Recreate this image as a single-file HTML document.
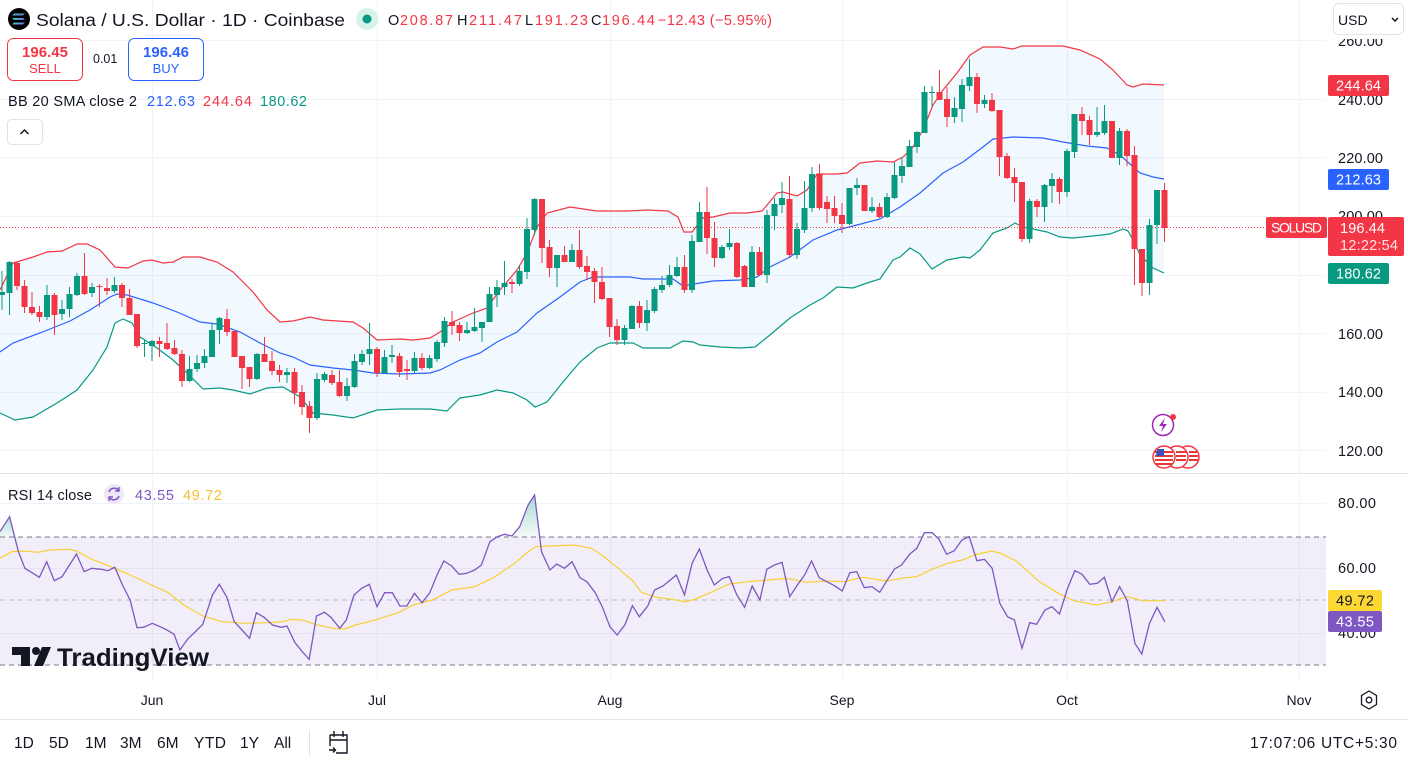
<!DOCTYPE html>
<html><head><meta charset="utf-8"><style>
html,body{margin:0;padding:0;background:#fff;}
body{width:1408px;height:761px;overflow:hidden;position:relative;font-family:"Liberation Sans",sans-serif;}
svg{position:absolute;left:0;top:0;}
</style></head><body>
<svg width="1408" height="761" viewBox="0 0 1408 761" xmlns="http://www.w3.org/2000/svg" font-family="Liberation Sans, sans-serif">
<defs>
<clipPath id="plot"><rect x="0" y="0" width="1326" height="473"/></clipPath>
<clipPath id="rsiplot"><rect x="0" y="474" width="1326" height="206"/></clipPath>
<linearGradient id="sol" x1="0" y1="0" x2="1" y2="1"><stop offset="0" stop-color="#14F195"/><stop offset="1" stop-color="#9945FF"/></linearGradient>
<linearGradient id="gfill" x1="0" y1="0" x2="0" y2="1"><stop offset="0" stop-color="#089981" stop-opacity="0.35"/><stop offset="1" stop-color="#089981" stop-opacity="0.05"/></linearGradient>
</defs>

<!-- grid main -->
<g stroke="#f0f3fa" stroke-width="1">
<path d="M0 40.5H1326M0 99.5H1326M0 157.5H1326M0 216.5H1326M0 275.5H1326M0 333.5H1326M0 392.5H1326M0 450.5H1326"/>
<path d="M152.5 0V680M377.5 0V680M610.5 0V680M842.5 0V680M1067.5 0V680M1299.5 0V680"/>
<path d="M0 503.5H1326M0 568.5H1326M0 633.5H1326"/>
</g>

<g clip-path="url(#plot)">
<!-- BB fill -->
<polygon fill="#2196f3" fill-opacity="0.06" points="0,290 13,263 33,257 47,252 62,251 77,244 87,244 100,250 115,267 128,268 143,261 152,260 163,263 173,262 183,257 200,257 217,262 233,272 253,292 267,310 280,322 293,321 310,317 323,320 353,322 363,328 377,340 400,339 413,340 430,338 440,332 453,322 473,313 487,308 500,290 517,270 527,253 537,227 547,213 570,207 597,211 627,211 647,210 668,211 678,217 684,232 692,232 703,218 713,217 730,213 747,213 762,211 777,193 783,192 797,196 807,190 817,174 837,174 847,173 860,163 877,161 893,162 903,157 913,147 923,130 933,105 943,90 957,73 970,55 983,47 1000,47 1013,49 1022,46 1040,46 1063,46 1080,50 1100,59 1113,70 1127,85 1133,87 1143,84 1164,85 1164,273 1153,268 1140,255 1133,240 1128,231 1123,229 1110,234 1093,236 1073,238 1060,237 1047,232 1033,229 1023,227 1015,223 1007,228 993,233 980,250 970,258 963,257 947,260 932,269 920,254 910,248 900,257 893,260 880,279 867,283 853,288 837,287 823,298 810,305 790,318 770,335 755,347 740,348 720,347 700,345 693,342 683,341 670,348 643,348 633,343 610,343 597,348 580,362 563,382 547,402 535,407 527,400 513,393 497,390 480,395 460,398 447,411 430,409 400,409 377,410 353,418 333,415 313,413 300,397 283,387 267,388 250,394 233,390 220,388 203,389 187,373 173,360 157,348 140,337 132,323 123,319 115,323 107,347 93,370 77,390 57,403 33,417 15,420 0,413"/>
<!-- BB lines -->
<polyline fill="none" stroke="#f23645" stroke-width="1.2" points="0,290 13,263 33,257 47,252 62,251 77,244 87,244 100,250 115,267 128,268 143,261 152,260 163,263 173,262 183,257 200,257 217,262 233,272 253,292 267,310 280,322 293,321 310,317 323,320 353,322 363,328 377,340 400,339 413,340 430,338 440,332 453,322 473,313 487,308 500,290 517,270 527,253 537,227 547,213 570,207 597,211 627,211 647,210 668,211 678,217 684,232 692,232 703,218 713,217 730,213 747,213 762,211 777,193 783,192 797,196 807,190 817,174 837,174 847,173 860,163 877,161 893,162 903,157 913,147 923,130 933,105 943,90 957,73 970,55 983,47 1000,47 1013,49 1022,46 1040,46 1063,46 1080,50 1100,59 1113,70 1127,85 1133,87 1143,84 1164,85"/>
<polyline fill="none" stroke="#2962ff" stroke-width="1.2" points="0,352 13,343 40,333 70,321 90,310 110,297 117,294 127,295 153,303 177,312 200,322 217,324 240,332 260,343 280,353 293,357 310,365 333,368 353,370 373,373 400,374 430,373 440,370 460,360 480,353 497,342 517,332 537,313 560,297 580,282 593,277 630,277 643,279 673,279 683,286 700,283 713,281 740,280 757,277 770,267 790,257 813,240 837,230 857,225 880,219 900,207 920,193 943,173 963,162 983,147 993,139 1013,137 1043,138 1063,142 1087,146 1107,148 1120,155 1140,173 1153,177 1164,179"/>
<polyline fill="none" stroke="#089981" stroke-width="1.2" points="0,413 15,420 33,417 57,403 77,390 93,370 107,347 115,323 123,319 132,323 140,337 157,348 173,360 187,373 203,389 220,388 233,390 250,394 267,388 283,387 300,397 313,413 333,415 353,418 377,410 400,409 430,409 447,411 460,398 480,395 497,390 513,393 527,400 535,407 547,402 563,382 580,362 597,348 610,343 633,343 643,348 670,348 683,341 693,342 700,345 720,347 740,348 755,347 770,335 790,318 810,305 823,298 837,287 853,288 867,283 880,279 893,260 900,257 910,248 920,254 932,269 947,260 963,257 970,258 980,250 993,233 1007,228 1015,223 1023,227 1033,229 1047,232 1060,237 1073,238 1093,236 1110,234 1123,229 1128,231 1133,240 1140,255 1153,268 1164,273"/>

<!-- price line -->
<path d="M0 227.5H1265" stroke="#f23645" stroke-width="1" stroke-dasharray="1 2"/>

<!-- green candles -->
<path fill="none" stroke="#089981" stroke-width="1" d="M2 271V310M9.5 261V315M47 285V320M62 300V320M69.5 287V317M77 273V296M92 283V297M114.5 277V293M144.5 340V357M152 340V361M189.5 356V382M197 355V372M204.5 349V368M212 323V357M219.5 317V344M257 353V380M287 368V383M317 373V420M324.5 372V382M347 378V401M354.5 354V388M362 350V365M369.5 323V365M384.5 350V374M392 345V363M414.5 352V373M429.5 355V369M437 340V362M444.5 317V347M467 322V334M474.5 308V332M482 322V342M489.5 287V322M497 280V307M504.5 261V295M519.5 265V286M527 218V279M534.5 198V235M557 255V287M572 244V262M624.5 325V345M632 305V329M647 300V331M654.5 287V313M662 276V293M669.5 265V287M677 257V277M692 235V293M699.5 202V242M722 245V259M729.5 229V250M752 246V287M767 210V283M774.5 198V230M782 182V213M797 223V259M804.5 181V233M812 167V212M849.5 188V225M857 178V195M872 197V213M887 193V218M894.5 162V199M902 157V183M909.5 140V167M917 131V153M924.5 86V133M932 86V107M954.5 97V123M962 79V122M969.5 59V91M984.5 95V108M1029.5 199V243M1044.5 184V222M1052 173V203M1067 149V197M1074.5 114V158M1097 107V137M1104.5 105V135M1119.5 128V165M1149.5 219V295M1157 190V244"/>
<g fill="#089981">
<rect x="-1" y="292" width="6" height="3"/><rect x="6.5" y="262" width="6" height="31"/><rect x="44" y="295" width="6" height="22"/><rect x="59" y="309" width="6" height="5"/><rect x="66.5" y="294" width="6" height="15"/><rect x="74" y="276" width="6" height="19"/><rect x="89" y="287" width="6" height="6"/><rect x="111.5" y="285" width="6" height="6"/><rect x="141.5" y="343" width="6" height="1"/><rect x="149" y="341" width="6" height="5"/><rect x="186.5" y="369" width="6" height="12"/><rect x="194" y="363" width="6" height="6"/><rect x="201.5" y="356" width="6" height="7"/><rect x="209" y="330" width="6" height="27"/><rect x="216.5" y="318" width="6" height="12"/><rect x="254" y="354" width="6" height="25"/><rect x="284" y="372" width="6" height="3"/><rect x="314" y="379" width="6" height="39"/><rect x="321.5" y="374" width="6" height="6"/><rect x="344" y="386" width="6" height="10"/><rect x="351.5" y="361" width="6" height="26"/><rect x="359" y="354" width="6" height="8"/><rect x="366.5" y="349" width="6" height="5"/><rect x="381.5" y="357" width="6" height="16"/><rect x="389" y="355" width="6" height="2"/><rect x="411.5" y="358" width="6" height="13"/><rect x="426.5" y="358" width="6" height="10"/><rect x="434" y="342" width="6" height="17"/><rect x="441.5" y="321" width="6" height="22"/><rect x="464" y="330" width="6" height="3"/><rect x="471.5" y="327" width="6" height="4"/><rect x="479" y="322" width="6" height="6"/><rect x="486.5" y="294" width="6" height="28"/><rect x="494" y="287" width="6" height="8"/><rect x="501.5" y="283" width="6" height="4"/><rect x="516.5" y="271" width="6" height="13"/><rect x="524" y="229" width="6" height="43"/><rect x="531.5" y="199" width="6" height="31"/><rect x="554" y="255" width="6" height="13"/><rect x="569" y="250" width="6" height="12"/><rect x="621.5" y="328" width="6" height="12"/><rect x="629" y="306" width="6" height="23"/><rect x="644" y="310" width="6" height="13"/><rect x="651.5" y="289" width="6" height="22"/><rect x="659" y="285" width="6" height="5"/><rect x="666.5" y="275" width="6" height="10"/><rect x="674" y="267" width="6" height="9"/><rect x="689" y="241" width="6" height="49"/><rect x="696.5" y="212" width="6" height="30"/><rect x="719" y="247" width="6" height="11"/><rect x="726.5" y="243" width="6" height="4"/><rect x="749" y="252" width="6" height="35"/><rect x="764" y="215" width="6" height="60"/><rect x="771.5" y="204" width="6" height="12"/><rect x="779" y="198" width="6" height="7"/><rect x="794" y="229" width="6" height="26"/><rect x="801.5" y="208" width="6" height="22"/><rect x="809" y="174" width="6" height="34"/><rect x="846.5" y="188" width="6" height="36"/><rect x="854" y="185" width="6" height="3"/><rect x="869" y="207" width="6" height="4"/><rect x="884" y="197" width="6" height="20"/><rect x="891.5" y="175" width="6" height="23"/><rect x="899" y="166" width="6" height="10"/><rect x="906.5" y="146" width="6" height="21"/><rect x="914" y="132" width="6" height="15"/><rect x="921.5" y="92" width="6" height="41"/><rect x="929" y="92" width="6" height="1"/><rect x="951.5" y="108" width="6" height="9"/><rect x="959" y="85" width="6" height="24"/><rect x="966.5" y="77" width="6" height="9"/><rect x="981.5" y="100" width="6" height="4"/><rect x="1026.5" y="201" width="6" height="38"/><rect x="1041.5" y="185" width="6" height="22"/><rect x="1049" y="179" width="6" height="7"/><rect x="1064" y="151" width="6" height="41"/><rect x="1071.5" y="114" width="6" height="38"/><rect x="1094" y="132" width="6" height="3"/><rect x="1101.5" y="121" width="6" height="12"/><rect x="1116.5" y="131" width="6" height="27"/><rect x="1146.5" y="225" width="6" height="58"/><rect x="1154" y="190" width="6" height="35"/>
</g>
<!-- red candles -->
<path fill="none" stroke="#f23645" stroke-width="1" d="M17 261V290M24.5 280V313M32 292V315M39.5 306V322M54.5 293V335M84.5 253V295M99.5 284V307M107 278V295M122 283V307M129.5 289V315M137 314V348M159.5 337V357M167 323V350M174.5 340V355M182 350V387M227 309V336M234.5 331V357M242 356V389M249.5 367V387M264.5 337V362M272 351V375M279.5 365V382M294.5 368V404M302 385V415M309.5 401V433M332 370V385M339.5 370V397M377 347V377M399.5 353V377M407 360V380M422 353V370M452 311V335M459.5 322V341M512 279V293M542 199V263M549.5 240V277M564.5 246V262M579.5 230V269M587 256V280M594.5 268V303M602 267V300M609.5 298V337M617 319V345M639.5 301V328M684.5 255V293M707 187V254M714.5 222V267M737 242V278M744.5 265V287M759.5 247V276M789.5 176V257M819.5 164V210M827 196V223M834.5 196V223M842 203V233M864.5 185V211M879.5 203V218M939.5 70V100M947 87V127M977 73V113M992 93V112M999.5 110V176M1007 153V179M1014.5 168V202M1022 182V242M1037 199V217M1059.5 177V204M1082 107V135M1089.5 116V145M1112 121V158M1127 129V166M1134.5 146V285M1142 249V296M1164.5 183V242"/>
<g fill="#f23645">
<rect x="14" y="263" width="6" height="23"/><rect x="21.5" y="286" width="6" height="21"/><rect x="29" y="307" width="6" height="6"/><rect x="36.5" y="312" width="6" height="5"/><rect x="51.5" y="295" width="6" height="20"/><rect x="81.5" y="276" width="6" height="18"/><rect x="96.5" y="286" width="6" height="1"/><rect x="104" y="288" width="6" height="3"/><rect x="119" y="285" width="6" height="13"/><rect x="126.5" y="298" width="6" height="17"/><rect x="134" y="314" width="6" height="32"/><rect x="156.5" y="341" width="6" height="3"/><rect x="164" y="343" width="6" height="6"/><rect x="171.5" y="348" width="6" height="6"/><rect x="179" y="354" width="6" height="27"/><rect x="224" y="319" width="6" height="13"/><rect x="231.5" y="331" width="6" height="26"/><rect x="239" y="356" width="6" height="12"/><rect x="246.5" y="367" width="6" height="12"/><rect x="261.5" y="354" width="6" height="8"/><rect x="269" y="361" width="6" height="10"/><rect x="276.5" y="370" width="6" height="5"/><rect x="291.5" y="372" width="6" height="21"/><rect x="299" y="392" width="6" height="15"/><rect x="306.5" y="406" width="6" height="12"/><rect x="329" y="375" width="6" height="8"/><rect x="336.5" y="382" width="6" height="14"/><rect x="374" y="349" width="6" height="24"/><rect x="396.5" y="356" width="6" height="16"/><rect x="404" y="369" width="6" height="2"/><rect x="419" y="358" width="6" height="10"/><rect x="449" y="322" width="6" height="4"/><rect x="456.5" y="325" width="6" height="8"/><rect x="509" y="282" width="6" height="2"/><rect x="539" y="199" width="6" height="49"/><rect x="546.5" y="247" width="6" height="21"/><rect x="561.5" y="255" width="6" height="7"/><rect x="576.5" y="250" width="6" height="17"/><rect x="584" y="266" width="6" height="6"/><rect x="591.5" y="271" width="6" height="11"/><rect x="599" y="282" width="6" height="17"/><rect x="606.5" y="298" width="6" height="29"/><rect x="614" y="326" width="6" height="14"/><rect x="636.5" y="306" width="6" height="17"/><rect x="681.5" y="267" width="6" height="23"/><rect x="704" y="212" width="6" height="26"/><rect x="711.5" y="238" width="6" height="20"/><rect x="734" y="243" width="6" height="34"/><rect x="741.5" y="266" width="6" height="21"/><rect x="756.5" y="252" width="6" height="23"/><rect x="786.5" y="199" width="6" height="56"/><rect x="816.5" y="174" width="6" height="34"/><rect x="824" y="202" width="6" height="7"/><rect x="831.5" y="208" width="6" height="8"/><rect x="839" y="215" width="6" height="9"/><rect x="861.5" y="185" width="6" height="26"/><rect x="876.5" y="207" width="6" height="10"/><rect x="936.5" y="92" width="6" height="8"/><rect x="944" y="99" width="6" height="18"/><rect x="974" y="77" width="6" height="27"/><rect x="989" y="100" width="6" height="11"/><rect x="996.5" y="110" width="6" height="47"/><rect x="1004" y="156" width="6" height="22"/><rect x="1011.5" y="177" width="6" height="6"/><rect x="1019" y="182" width="6" height="57"/><rect x="1034" y="201" width="6" height="6"/><rect x="1056.5" y="179" width="6" height="13"/><rect x="1079" y="114" width="6" height="7"/><rect x="1086.5" y="120" width="6" height="15"/><rect x="1109" y="121" width="6" height="37"/><rect x="1124" y="131" width="6" height="25"/><rect x="1131.5" y="155" width="6" height="94"/><rect x="1139" y="249" width="6" height="34"/><rect x="1161.5" y="190" width="6" height="38"/>
</g>
</g>

<!-- pane separator -->
<path d="M0 473.5H1408" stroke="#e0e3eb" stroke-width="1"/>

<!-- RSI pane -->
<g clip-path="url(#rsiplot)">
<rect x="0" y="537" width="1326" height="128" fill="#7e57c2" fill-opacity="0.1"/>
<path d="M0 537H1326M0 665H1326" stroke="#787b86" stroke-width="1" stroke-dasharray="5 4"/>
<path d="M0 600H1326" stroke="#9598a1" stroke-opacity="0.6" stroke-width="1" stroke-dasharray="5 4"/>
<polygon fill="url(#gfill)" points="0,537 0,531.7 9.6,516.7 14.6,537"/>
<polygon fill="url(#gfill)" points="497.5,537 504.4,534.3 510,537 513,537 519.7,526.7 528.1,505 534.6,495 539.7,537"/>
<polyline fill="none" stroke="#f7d035" stroke-width="1.2" points="0,558.3 11.5,551.7 23,551 38.3,552.3 49.8,550 68.9,549.3 76.5,551 91.8,559.3 111,566.7 130.1,575 153.1,585.7 168.4,592.7 183.7,605 202.8,616 222,621.7 244.9,623.3 267.9,622.7 283.2,621.7 290.9,619.3 302.3,620 317.6,625 333,628.3 344.4,629 355.9,625 375,620 398,612.7 413.3,605 432.5,600 451.6,590 474.6,586.7 493.7,577.7 516.7,561.7 528.1,551.7 535.8,546.7 551.1,546 574,545 591.5,548.3 603,556 618.3,568.3 633.6,581.7 641.2,592.3 656.5,597.3 671.8,599.3 685.2,601.7 694.8,599.3 710.1,592.7 729.3,584 748.4,581.7 767.5,580 782.8,578.7 790.5,579 805.8,582.3 824.9,581 844.1,581.7 863.2,577.3 886.2,581 905.3,577.7 916.8,576.7 932.1,569.3 947.4,563.3 962.7,560 974.2,555 991.4,551 1000.9,553.3 1016.3,561 1039.3,581.7 1058.4,593.3 1073.7,600.7 1096.7,605 1111.9,601.7 1127.3,596.7 1142.6,600.7 1165.5,600.7"/>
<polyline fill="none" stroke="#7e57c2" stroke-width="1.3" points="0,531.7 9.6,516.7 18.4,551.7 24.9,568.3 39.4,577.3 46.7,561.7 54.3,580.7 62,576.7 76.5,554 84.2,571.7 91.8,568.3 101.4,569.3 107.9,570.7 114.8,567.3 122.5,585 130.1,600 137,627.7 143.5,627.3 152.3,623.3 160,626.7 167,630 174.1,634.3 179.9,650 187.5,639.3 195,632 202.8,624.3 212.4,595 219.3,584.3 226.9,597.3 234.2,621.7 242,630 249.5,638.3 256.4,612.7 264.1,617.3 272.5,625 281.3,627.3 287,626 294.7,642.3 302.3,651.7 309.2,659.3 316.5,616 324.5,612.3 331,617.3 339.8,628.3 346.3,620 354,595 361.7,588.3 369.3,584.3 377,606.7 384.6,592.7 392.3,592.7 399.9,606 406.8,606 414.5,593.3 422.1,602.7 429.8,592.7 437,575 443.9,561 451.6,566 459.2,574.3 466.9,573.3 474.6,570 481.4,565 489.9,541.7 497.5,536.7 504.4,534.3 512,536 519.7,526.7 528.1,505 534.6,495 541.5,551.7 549.9,570 556.8,564 564.5,568.3 572.1,561.7 580,577.7 586.9,581.7 595.3,592.7 602.2,606.7 609.9,626.7 617.1,635 624.8,625 632.4,605.7 639.3,616.7 647.7,606 654.6,590 663,586 676.4,575 684.5,595 692.1,563.3 699.4,549 707.1,570 714.3,585 722.7,578.3 729.3,576.7 736.9,595 744.6,607.3 752.2,586 759.9,600 766.8,569.3 774.4,565 782.1,562.3 789.7,596.7 797.4,585 804.6,575 811.5,561 819.2,577.7 826.8,581.7 834.5,585.7 842.2,591 849.8,572.7 856.7,571.7 864.3,587.7 872,586.7 879.7,592.3 887.3,580 894.6,569 901.5,565 909.9,554 916.8,548.3 924.4,532.7 932.1,532.7 939,539.3 946.6,554.3 954.3,550.7 961.9,540 969.2,536.7 976.9,560.7 984.5,559.3 992.2,568.3 999.8,603.3 1007.5,616.7 1014.4,620 1022,648.3 1029.7,622.7 1036.6,624.3 1045,610 1051.9,606.7 1059.5,614 1067.2,589.3 1074.8,570.7 1082.1,574.3 1089.8,584.3 1097.4,583.3 1104.3,577.3 1112,601.7 1119.6,586.7 1127.3,600.7 1134.9,643.3 1141.8,654 1149.5,623.3 1157.1,607.3 1164.8,621.7"/>
</g>

<!-- TradingView logo -->
<g fill="#131722">
<path d="M12 647H30V666H21V655H12Z"/>
<circle cx="36" cy="651" r="4"/>
<path d="M42 647H51L43 666H34Z"/>
<text x="57" y="666" font-size="25" font-weight="bold" textLength="152" lengthAdjust="spacingAndGlyphs">TradingView</text>
</g>

<!-- header -->
<circle cx="19" cy="19" r="11" fill="#000"/>
<g fill="url(#sol)"><path d="M14 13.5H25L23 15.5H12Z"/><path d="M12 18H23L25 20H14Z"/><path d="M14 22.5H25L23 24.5H12Z"/></g>
<text x="36" y="26" font-size="17.5" fill="#131722" textLength="309" lengthAdjust="spacingAndGlyphs">Solana / U.S. Dollar · 1D · Coinbase</text>
<circle cx="367" cy="19" r="11" fill="#d7f1eb"/>
<circle cx="367" cy="19" r="4.5" fill="#089981"/>
<g font-size="14.5">
<text x="388" y="25" fill="#131722">O</text><text x="400" y="25" fill="#f23645" textLength="53">208.87</text>
<text x="457" y="25" fill="#131722">H</text><text x="469" y="25" fill="#f23645" textLength="53">211.47</text>
<text x="525" y="25" fill="#131722">L</text><text x="535" y="25" fill="#f23645" textLength="53">191.23</text>
<text x="591" y="25" fill="#131722">C</text><text x="602" y="25" fill="#f23645" textLength="53">196.44</text>
<text x="658" y="25" fill="#f23645" textLength="114">−12.43 (−5.95%)</text>
</g>

<!-- sell/buy -->
<rect x="7.5" y="38.5" width="75" height="42" rx="6" fill="#fff" stroke="#f23645"/>
<text x="45" y="57" font-size="15" font-weight="bold" fill="#f23645" text-anchor="middle">196.45</text>
<text x="45" y="73" font-size="13" fill="#f23645" text-anchor="middle">SELL</text>
<text x="93" y="63" font-size="12.5" fill="#131722">0.01</text>
<rect x="128.5" y="38.5" width="75" height="42" rx="6" fill="#fff" stroke="#2962ff"/>
<text x="166" y="57" font-size="15" font-weight="bold" fill="#2962ff" text-anchor="middle">196.46</text>
<text x="166" y="73" font-size="13" fill="#2962ff" text-anchor="middle">BUY</text>

<!-- BB legend -->
<g font-size="14.5">
<text x="8" y="106" fill="#131722" textLength="129">BB 20 SMA close 2</text>
<text x="147" y="106" fill="#2962ff" textLength="48">212.63</text>
<text x="203" y="106" fill="#f23645" textLength="49">244.64</text>
<text x="260" y="106" fill="#089981" textLength="47">180.62</text>
</g>
<rect x="7.5" y="119.5" width="35" height="25" rx="4" fill="#fff" stroke="#e0e3eb"/>
<path d="M20.5 134L24.5 130L28.5 134" fill="none" stroke="#131722" stroke-width="1.5"/>

<!-- RSI legend -->
<text x="8" y="500" font-size="14.5" fill="#131722" textLength="84">RSI 14 close</text>
<circle cx="114" cy="494" r="10" fill="#ede7f6"/>
<path d="M109 492A5.5 5.5 0 0 1 119 491M119 496A5.5 5.5 0 0 1 109 497" fill="none" stroke="#7e57c2" stroke-width="1.6"/>
<path d="M119 487V491H115M109 501V497H113" fill="none" stroke="#7e57c2" stroke-width="1.4"/>
<text x="135" y="500" font-size="14.5" fill="#7e57c2" textLength="39">43.55</text>
<text x="183" y="500" font-size="14.5" fill="#f2c12e" textLength="39">49.72</text>

<!-- event icons -->
<circle cx="1163" cy="425" r="10.5" fill="#fff" stroke="#9c27b0" stroke-width="1.5"/>
<path d="M1165 418L1159 426H1163L1161 432L1167 424H1163Z" fill="#9c27b0"/>
<circle cx="1173" cy="417" r="3" fill="#f23645"/>
<g>
<circle cx="1188" cy="457" r="11" fill="#fff" stroke="#f23645" stroke-width="1.5"/>
<circle cx="1177" cy="457" r="11" fill="#fff" stroke="#f23645" stroke-width="1.5"/>
<circle cx="1164" cy="457" r="11" fill="#fff" stroke="#f23645" stroke-width="1.5"/>
<path d="M1155 452H1173M1155 456H1173M1155 460H1173M1156 464H1172" stroke="#e53935" stroke-width="2"/>
<path d="M1157 449H1164V456H1156Z" fill="#3f51b5"/>
<path d="M1176 452H1186M1176 456H1186M1176 460H1186" stroke="#e53935" stroke-width="2"/>
<path d="M1189 452H1197M1189 456H1198M1189 460H1198" stroke="#e53935" stroke-width="2"/>
</g>

<!-- price axis -->
<rect x="1326" y="0" width="82" height="39" fill="#fff"/>
<g font-size="14.5" fill="#131722">
<text x="1338" y="46" textLength="45" clip-path="inset(0)">260.00</text>
<text x="1338" y="105" textLength="45">240.00</text>
<text x="1338" y="163" textLength="45">220.00</text>
<text x="1338" y="221" textLength="45">200.00</text>
<text x="1338" y="339" textLength="45">160.00</text>
<text x="1338" y="397" textLength="45">140.00</text>
<text x="1338" y="456" textLength="45">120.00</text>
<text x="1338" y="508" textLength="38">80.00</text>
<text x="1338" y="573" textLength="38">60.00</text>
<text x="1338" y="638" textLength="38">40.00</text>
</g>
<rect x="1326" y="0" width="82" height="39" fill="#fff"/>
<rect x="1333.5" y="3.5" width="70" height="31" rx="5" fill="#fff" stroke="#e0e3eb"/>
<text x="1338" y="25" font-size="14" fill="#131722">USD</text>
<path d="M1392 18L1395 21L1398 18" fill="none" stroke="#131722" stroke-width="1.5"/>

<rect x="1328" y="75" width="61" height="21" rx="2" fill="#f23645"/>
<text x="1358.5" y="90.5" font-size="14.5" fill="#fff" text-anchor="middle" textLength="45">244.64</text>
<rect x="1328" y="169" width="61" height="21" rx="2" fill="#2962ff"/>
<text x="1358.5" y="184.5" font-size="14.5" fill="#fff" text-anchor="middle" textLength="45">212.63</text>
<rect x="1266" y="217" width="61" height="21" rx="2" fill="#f23645"/>
<text x="1296.5" y="232.5" font-size="14" fill="#fff" text-anchor="middle" textLength="51">SOLUSD</text>
<rect x="1328" y="217" width="76" height="39" rx="2" fill="#f23645"/>
<text x="1340" y="233" font-size="14.5" fill="#fff" textLength="45">196.44</text>
<text x="1340" y="250" font-size="14.5" fill="#fde0e2" textLength="58">12:22:54</text>
<rect x="1328" y="263" width="61" height="21" rx="2" fill="#089981"/>
<text x="1358.5" y="278.5" font-size="14.5" fill="#fff" text-anchor="middle" textLength="45">180.62</text>

<rect x="1328" y="590" width="54" height="21" rx="2" fill="#fdd835"/>
<text x="1355" y="605.5" font-size="14.5" fill="#131722" text-anchor="middle" textLength="38">49.72</text>
<rect x="1328" y="611" width="54" height="21" rx="2" fill="#7e57c2"/>
<text x="1355" y="626.5" font-size="14.5" fill="#fff" text-anchor="middle" textLength="38">43.55</text>

<!-- time axis -->
<g font-size="14" fill="#131722" text-anchor="middle">
<text x="152" y="705">Jun</text>
<text x="377" y="705">Jul</text>
<text x="610" y="705">Aug</text>
<text x="842" y="705">Sep</text>
<text x="1067" y="705">Oct</text>
<text x="1299" y="705">Nov</text>
</g>
<path d="M1369 691L1376.5 695.5V704.5L1369 709L1361.5 704.5V695.5Z" fill="none" stroke="#131722" stroke-width="1.3"/>
<circle cx="1369" cy="700" r="2.8" fill="none" stroke="#131722" stroke-width="1.3"/>

<!-- bottom toolbar -->
<path d="M0 719.5H1408" stroke="#e0e3eb" stroke-width="1"/>
<g font-size="15.5" fill="#131722">
<text x="14" y="748">1D</text>
<text x="49" y="748">5D</text>
<text x="85" y="748">1M</text>
<text x="120" y="748">3M</text>
<text x="157" y="748">6M</text>
<text x="194" y="748" textLength="32">YTD</text>
<text x="240" y="748">1Y</text>
<text x="274" y="748">All</text>
<text x="1250" y="748" textLength="147">17:07:06 UTC+5:30</text>
</g>
<path d="M309.5 730V756" stroke="#e0e3eb" stroke-width="1"/>
<g fill="none" stroke="#131722" stroke-width="1.4">
<path d="M330 735H347V753H336M330 735V746M330 740H347"/>
<path d="M334 731V737M343 731V737"/>
<path d="M329 750H335M333 747.5L335.5 750L333 752.5"/>
</g>
</svg>
</body></html>
